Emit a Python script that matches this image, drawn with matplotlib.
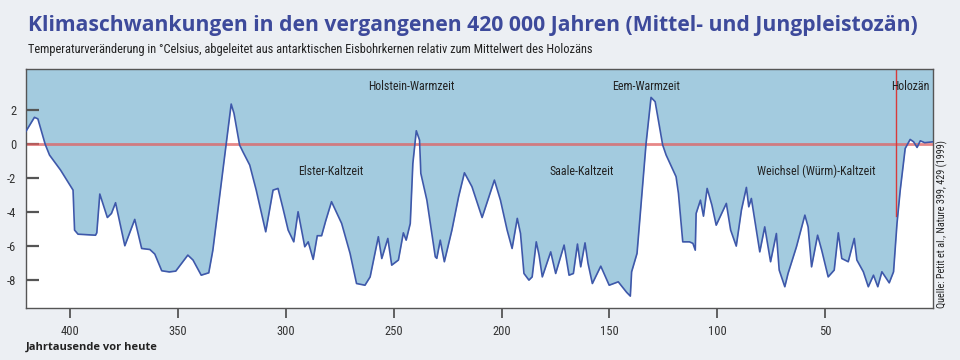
import matplotlib
matplotlib.use("Agg")
import matplotlib.pyplot as plt
from matplotlib import font_manager

# Data (ky before present, temperature change in °C)
ky = [421.0, 416.5, 414.9, 411.5, 409.5, 404.4, 398.6, 397.9, 396.3, 388.2,
      387.6, 386.2, 382.7, 380.8, 378.9, 374.6, 370.0, 366.8, 363.0, 360.7,
      357.5, 354.0, 351.0, 345.4, 343.0, 339.2, 335.7, 333.8, 327.6, 325.3,
      324.0, 321.4, 319.9, 316.7, 313.7, 309.3, 305.9, 303.6, 301.3, 298.9,
      296.3, 294.3, 292.7, 291.2, 289.6, 287.3, 285.4, 283.4, 281.5, 278.8,
      274.1, 270.2, 267.2, 263.3, 260.9, 257.1, 255.5, 252.7, 250.9, 247.8,
      245.5, 244.2, 242.3, 241.1, 239.5, 238.0, 237.4, 234.6, 230.7, 230.0,
      228.4, 226.5, 223.0, 219.9, 217.2, 213.7, 209.0, 203.3, 200.5, 197.4,
      195.1, 192.7, 191.2, 189.6, 187.3, 185.8, 183.9, 182.6, 181.1, 177.2,
      174.9, 171.0, 168.7, 166.7, 164.8, 163.3, 161.3, 159.9, 157.9, 154.0,
      150.1, 145.9, 142.0, 140.3, 139.7, 137.2, 135.3, 133.0, 130.7, 128.8,
      126.8, 125.3, 123.7, 119.1, 118.0, 116.0, 112.9, 111.3, 110.2, 109.8,
      107.8, 106.4, 104.7, 102.5, 100.5, 95.8, 93.8, 91.2, 88.8, 86.5,
      85.4, 84.2, 80.3, 78.0, 75.3, 72.6, 71.3, 68.7, 67.2, 63.3,
      59.4, 57.9, 56.3, 53.5, 51.6, 48.6, 45.8, 43.9, 42.3, 39.3,
      36.5, 35.3, 32.3, 30.0, 27.6, 25.6, 23.7, 20.3, 18.3, 16.7,
      15.2, 12.9, 10.6, 9.0, 7.4, 5.9, 3.9, 0.0]
temp = [0.65, 1.59, 1.50, 0.00, -0.63, -1.51, -2.69, -5.04, -5.28, -5.34,
        -5.20, -2.92, -4.30, -4.06, -3.43, -5.96, -4.41, -6.12, -6.18, -6.45,
        -7.43, -7.50, -7.45, -6.51, -6.80, -7.69, -7.55, -6.22, 0.06, 2.37,
        1.82, -0.04, -0.43, -1.22, -2.69, -5.14, -2.69, -2.59, -3.76, -5.04,
        -5.73, -3.96, -5.04, -6.02, -5.73, -6.76, -5.37, -5.37, -4.50, -3.37,
        -4.65, -6.41, -8.18, -8.28, -7.79, -5.43, -6.71, -5.53, -7.10, -6.80,
        -5.20, -5.63, -4.65, -1.12, 0.80, 0.25, -1.71, -3.28, -6.61, -6.70,
        -5.63, -6.90, -5.04, -3.08, -1.67, -2.49, -4.30, -2.10, -3.28, -5.04,
        -6.12, -4.35, -5.24, -7.59, -7.98, -7.79, -5.73, -6.51, -7.79, -6.32,
        -7.59, -5.92, -7.69, -7.59, -5.86, -7.20, -5.79, -7.00, -8.18, -7.16,
        -8.28, -8.08, -8.70, -8.92, -7.49, -6.41, -3.47, 0.06, 2.76, 2.51,
        1.04, -0.04, -0.63, -1.90, -2.88, -5.73, -5.73, -5.82, -6.22, -4.06,
        -3.28, -4.22, -2.59, -3.57, -4.75, -3.47, -5.04, -5.98, -3.86, -2.53,
        -3.67, -3.18, -6.32, -4.85, -6.90, -5.24, -7.39, -8.37, -7.59, -6.02,
        -4.16, -4.85, -7.20, -5.34, -6.22, -7.79, -7.39, -5.20, -6.71, -6.90,
        -5.53, -6.80, -7.49, -8.37, -7.69, -8.37, -7.49, -8.14, -7.49, -4.65,
        -2.69, -0.24, 0.29, 0.15, -0.18, 0.21, 0.10, 0.15]

x_ticks = [400, 350, 300, 250, 200, 150, 100, 50]
y_ticks = [2, 0, -2, -4, -6, -8]

# period labels: (text, ky, temperature)
periods = [("Holstein-Warmzeit", 242, 3.4),
           ("Eem-Warmzeit", 133, 3.4),
           ("Holozän", 10.5, 3.4),
           ("Elster-Kaltzeit", 279, -1.6),
           ("Saale-Kaltzeit", 163, -1.6),
           ("Weichsel (Würm)-Kaltzeit", 54, -1.6)]
holocene_start = 17  # ky, red vertical marker
holocene_low = -4.2

title = "Klimaschwankungen in den vergangenen 420 000 Jahren (Mittel- und Jungpleistozän)"
subtitle = ("Temperaturveränderung in °Celsius, abgeleitet aus antarktischen "
            "Eisbohrkernen relativ zum Mittelwert des Holozäns")
source = "Quelle: Petit et al., Nature 399, 429 (1999)"


def pick_font(candidates):
    names = {f.name for f in font_manager.fontManager.ttflist}
    for c in candidates:
        if c in names:
            return c
    return "DejaVu Sans"


narrow = pick_font(["Liberation Sans Narrow", "DejaVu Sans Condensed", "Roboto Condensed", "Liberation Sans"])
heading = pick_font(["Open Sans", "Noto Sans", "DejaVu Sans"])

bg = "#eceff3"
fill_blue = "#a3cbdf"
line_blue = "#3e58aa"
title_blue = "#3d4a9b"

fig = plt.figure(figsize=(9.6, 3.6), dpi=100, facecolor=bg)
ax = fig.add_axes([0.0271, 0.1444, 0.9448, 0.6639])
ax.set_facecolor("white")

ymin, ymax = -9.62, 4.43
ax.fill_between(ky, temp, ymax, color=fill_blue, lw=0, zorder=1)
ax.plot(ky, temp, color=line_blue, lw=1.2, zorder=3)
ax.axhline(0, color="#e06060", lw=2, alpha=0.75, zorder=2)
ax.plot([holocene_start, holocene_start], [holocene_low, ymax], color="#d83a3a", lw=1, zorder=2)

ax.set_xlim(420.4, 0)
ax.set_ylim(ymin, ymax)

ax.set_xticks(x_ticks)
ax.set_xticklabels([str(v) for v in x_ticks], fontfamily=narrow, fontsize=9, color="#333333")
ax.set_yticks(y_ticks)
ax.set_yticklabels([str(v) for v in y_ticks], fontfamily=narrow, fontsize=9, color="#333333")
ax.tick_params(axis="x", direction="out", length=7, width=1.3, color="#555555", pad=5)
ax.tick_params(axis="y", direction="in", length=9, width=1.6, color="#555555", pad=7)
for s in ax.spines.values():
    s.set_color("#555555")
    s.set_linewidth(1)

for text, x, y in periods:
    ax.text(x, y, text, ha="center", va="center", fontfamily=narrow, fontsize=8.6, color="#222222", zorder=4)

fig.text(0.029, 0.93, title, ha="left", va="center", fontfamily=heading, fontweight="bold",
         fontsize=15.2, color=title_blue)
fig.text(0.029, 0.862, subtitle, ha="left", va="center", fontfamily=narrow, fontsize=8.9, color="#222222")
fig.text(0.027, 0.036, "Jahrtausende vor heute", ha="left", va="center", fontfamily=heading,
         fontweight="bold", fontsize=8, color="#222222")
fig.text(0.981, 0.1444, source, ha="center", va="bottom", rotation=90, fontfamily=narrow,
         fontsize=7.3, color="#222222")

fig.savefig("out.png", dpi=100, facecolor=bg)
